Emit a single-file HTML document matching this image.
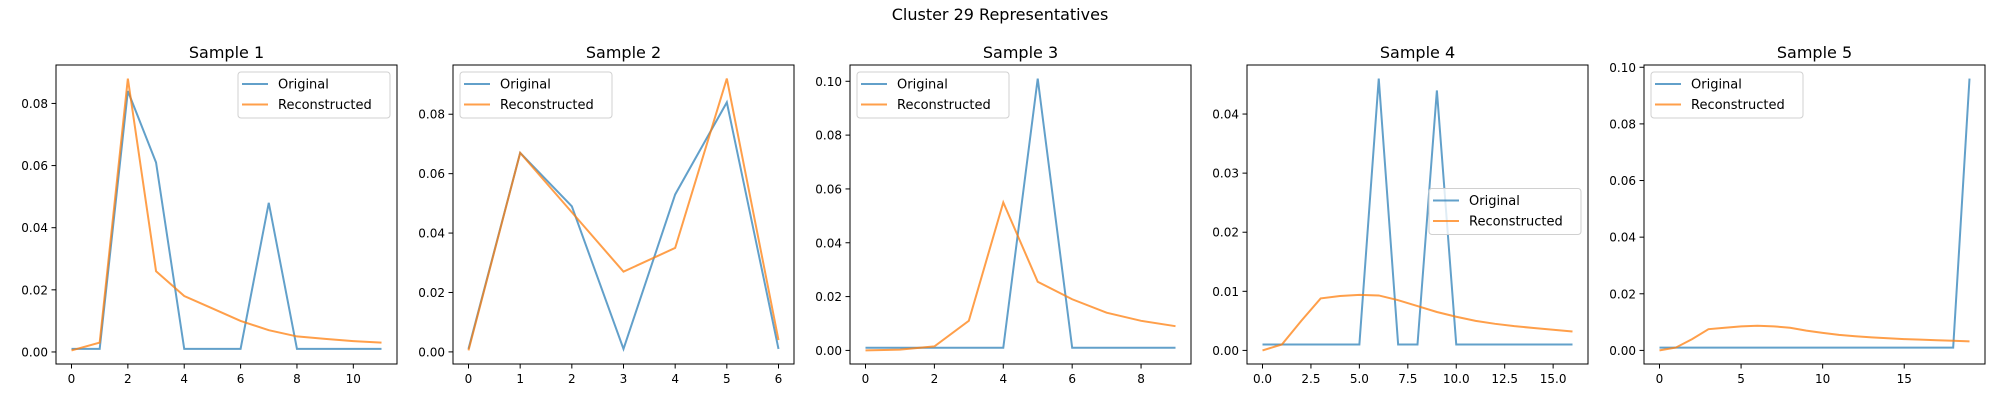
<!DOCTYPE html>
<html><head><meta charset="utf-8">
<style>
html,body{margin:0;padding:0;background:#fff;}
svg{display:block;font-family:"DejaVu Sans","Liberation Sans",sans-serif;}
</style></head>
<body>
<svg id="chart" width="2000" height="400" viewBox="0 0 2000 400">
<text x="1000" y="20" text-anchor="middle" font-size="16">Cluster 29 Representatives</text>
</svg>
<script>
const sampleTitles = ["Sample 1","Sample 2","Sample 3","Sample 4","Sample 5"];
const original1 = [0.001,0.001,0.084,0.061,0.001,0.001,0.001,0.048,0.001,0.001,0.001,0.001];
const recon1 = [0.0005,0.003,0.088,0.026,0.018,0.014,0.010,0.007,0.005,0.0042,0.0035,0.003];
const original2 = [0.001,0.067,0.049,0.001,0.053,0.084,0.001];
const recon2 = [0.0005,0.067,0.047,0.027,0.035,0.092,0.004];
const original3 = [0.001,0.001,0.001,0.001,0.001,0.101,0.001,0.001,0.001,0.001];
const recon3 = [0.0,0.0003,0.0015,0.011,0.055,0.0255,0.019,0.014,0.011,0.009];
const original4 = [0.001,0.001,0.001,0.001,0.001,0.001,0.046,0.001,0.001,0.044,0.001,0.001,0.001,0.001,0.001,0.001,0.001];
const recon4 = [0.0,0.001,0.005,0.0088,0.0092,0.0094,0.0093,0.0085,0.0075,0.0065,0.0057,0.005,0.0045,0.0041,0.0038,0.0035,0.0032];
const original5 = [0.001,0.001,0.001,0.001,0.001,0.001,0.001,0.001,0.001,0.001,0.001,0.001,0.001,0.001,0.001,0.001,0.001,0.001,0.001,0.096];
const recon5 = [0.0,0.001,0.004,0.0075,0.008,0.0085,0.0087,0.0085,0.008,0.007,0.0062,0.0055,0.005,0.0046,0.0043,0.004,0.0038,0.0036,0.0034,0.0032];
const xTicks1 = [0,2,4,6,8,10];
const xTicks2 = [0,1,2,3,4,5,6];
const xTicks3 = [0,2,4,6,8];
const xTicks4 = [0,2.5,5,7.5,10,12.5,15];
const xTicks5 = [0,5,10,15];
const xTickLabels4 = ["0.0","2.5","5.0","7.5","10.0","12.5","15.0"];
const yTicks1 = [0,0.02,0.04,0.06,0.08];
const yTicks2 = [0,0.02,0.04,0.06,0.08];
const yTicks3 = [0,0.02,0.04,0.06,0.08,0.10];
const yTicks4 = [0,0.01,0.02,0.03,0.04];
const yTicks5 = [0,0.02,0.04,0.06,0.08,0.10];
const yTickLabels1 = ["0.00","0.02","0.04","0.06","0.08"];
const yTickLabels3 = ["0.00","0.02","0.04","0.06","0.08","0.10"];
const yTickLabels4 = ["0.00","0.01","0.02","0.03","0.04"];

const NS = "http://www.w3.org/2000/svg";
const svg = document.getElementById("chart");
function mk(tag, attrs, parent){
  const e = document.createElementNS(NS, tag);
  for (const k in attrs) e.setAttribute(k, attrs[k]);
  (parent||svg).appendChild(e);
  return e;
}
const panels = [
  {orig: original1, rec: recon1, xt: xTicks1, xl: null, yt: yTicks1, yl: yTickLabels1, leg: "ur"},
  {orig: original2, rec: recon2, xt: xTicks2, xl: null, yt: yTicks2, yl: yTickLabels1, leg: "ul"},
  {orig: original3, rec: recon3, xt: xTicks3, xl: null, yt: yTicks3, yl: yTickLabels3, leg: "ul"},
  {orig: original4, rec: recon4, xt: xTicks4, xl: xTickLabels4, yt: yTicks4, yl: yTickLabels4, leg: "cr"},
  {orig: original5, rec: recon5, xt: xTicks5, xl: null, yt: yTicks5, yl: yTickLabels3, leg: "ul"}
];
const lefts = [56, 453, 850, 1247, 1644];
const W = 341, TOP = 65, BOT = 364;

panels.forEach((p, i) => {
  const L = lefts[i], R = L + W;
  const g = mk("g", {});
  
  
  const n = p.orig.length;
  const xmin = 0, xmax = n - 1, xpad = (xmax - xmin) * 0.05;
  const all = p.orig.concat(p.rec);
  const ymin = Math.min(...all), ymax = Math.max(...all), ypad = (ymax - ymin) * 0.05;
  const x0 = xmin - xpad, x1 = xmax + xpad, y0 = ymin - ypad, y1 = ymax + ypad;
  const sx = v => L + (v - x0) / (x1 - x0) * W;
  const sy = v => BOT - (v - y0) / (y1 - y0) * (BOT - TOP);

  const title = mk("text", {x: L + W/2, y: 58, "text-anchor": "middle", "font-size": 16}, g);
  title.textContent = sampleTitles[i];
  
  

  p.xt.forEach((t, j) => {
    const x = sx(t);
    const tk = mk("line", {x1: x, x2: x, y1: BOT, y2: BOT + 4.5, stroke: "#000", "stroke-width": 1}, g);
    
    
    const lb = mk("text", {x: x, y: BOT + 19, "text-anchor": "middle", "font-size": 12}, g);
    lb.textContent = p.xl ? p.xl[j] : String(t);
    
    
  });
  p.yt.forEach((t, j) => {
    const y = sy(t);
    const tk = mk("line", {x1: L - 4.5, x2: L, y1: y, y2: y, stroke: "#000", "stroke-width": 1}, g);
    
    
    const lb = mk("text", {x: L - 8, y: y + 4.5, "text-anchor": "end", "font-size": 12}, g);
    lb.textContent = p.yl[j];
    
    
  });
  const pts = arr => arr.map((v, k) => sx(k).toFixed(2) + "," + sy(v).toFixed(2)).join(" ");
  const lo = mk("polyline", {points: pts(p.orig), fill: "none", stroke: "#1f77b4", "stroke-opacity": 0.7, "stroke-width": 2}, g);
  
  
  const lr = mk("polyline", {points: pts(p.rec), fill: "none", stroke: "#ff7f0e", "stroke-opacity": 0.75, "stroke-width": 2}, g);
  
  
  const fr = mk("rect", {x: L, y: TOP, width: W, height: BOT - TOP, fill: "none", stroke: "#000", "stroke-width": 1}, g);
  
  
  const lw = 152, lh = 46;
  let lx, ly;
  if (p.leg === "ur") { lx = R - 7 - lw; ly = TOP + 7; }
  else if (p.leg === "ul") { lx = L + 7; ly = TOP + 7; }
  else { lx = R - 7 - lw; ly = (TOP + BOT)/2 - lh/2 - 3; }
  const lg = mk("g", {}, g);
  
  
  mk("rect", {x: lx, y: ly, width: lw, height: lh, rx: 3, fill: "#fff", "fill-opacity": 0.8, stroke: "#d0d0d0", "stroke-width": 1}, lg);
  const entries = [["Original", "#1f77b4", 0.7], ["Reconstructed", "#ff7f0e", 0.75]];
  entries.forEach((e, k) => {
    const yy = ly + 12 + k * 20.5;
    const ent = mk("g", {}, lg);
    
    
    mk("line", {x1: lx + 4, x2: lx + 30, y1: yy, y2: yy, stroke: e[1], "stroke-opacity": e[2], "stroke-width": 2}, ent);
    const t = mk("text", {x: lx + 40, y: yy + 4.5, "font-size": 13}, ent);
    t.textContent = e[0];
  });
});
</script>
</body></html>
